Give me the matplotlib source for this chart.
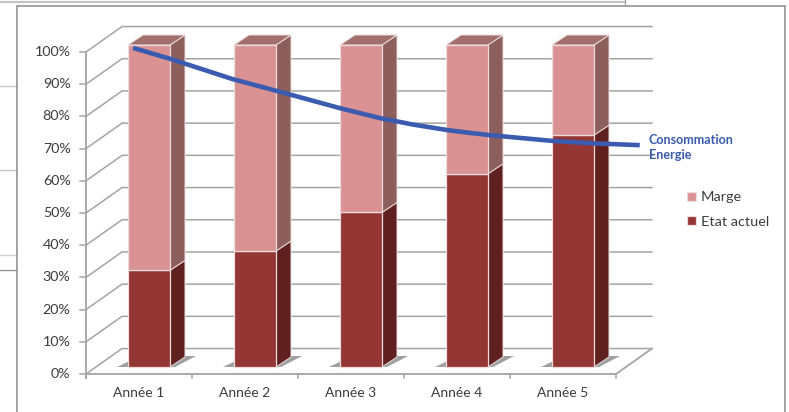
import matplotlib
matplotlib.use("Agg")
import matplotlib.pyplot as plt
from matplotlib.patches import Polygon, Rectangle

plt.rcParams['font.family'] = ['Lato', 'DejaVu Sans']

categories = ["Année 1", "Année 2", "Année 3", "Année 4", "Année 5"]
etat_actuel = [30, 36, 48, 60, 72]
marge = [70, 64, 52, 40, 28]
percent_ticks = [0, 10, 20, 30, 40, 50, 60, 70, 80, 90, 100]

# points (position along x, percent)
conso_x = [-0.15, 0.20, 0.79, 1.21, 1.80, 2.18, 2.49, 2.81, 3.03, 3.22, 3.81, 4.23, 4.63]
conso_y = [99.1, 95.7, 89.4, 85.7, 80.4, 77.3, 75.3, 73.6, 72.7, 72.0, 70.2, 69.4, 68.9]

W, H = 789, 412
PX_X = 1 / 106      # one pixel in x data units
PX_Y = 1 / 3.22     # one pixel in y data units

GREY = "#a4a4a4"
TEXT = "#3c3c3c"
EDGE = "#ecdcdc"
BLUE = "#3a5bb0"
MARGE_COLORS = ("#d99291", "#8c5e5c", "#a36f6d")
ETAT_COLORS = ("#943634", "#612020", "#7a2b2a")

fig = plt.figure(figsize=(W / 100, H / 100), dpi=100)
ax = fig.add_axes([0, 0, 1, 1])
ax.set_xlim(-149 * PX_X, (W - 149) * PX_X)
ax.set_ylim((367 - H) * PX_Y, 367 * PX_Y)
ax.axis("off")


def to_x(px):
    return (px - 149) * PX_X


def to_y(py):
    return (367 - py) * PX_Y


# bits of the window behind the chart
for py, color in [(86, "#c8c8c8"), (170, "#c8c8c8"), (255, "#d0d0d0"), (270, "#999999")]:
    ax.plot([to_x(0), to_x(16)], [to_y(py), to_y(py)], color=color, lw=1, zorder=0)
ax.plot([to_x(0), to_x(625)], [to_y(1.5), to_y(1.5)], color="#c4c4c4", lw=1.6, zorder=0)
ax.plot([to_x(625), to_x(625)], [to_y(0), to_y(5)], color="#999999", lw=0.8, zorder=0)

# chart frame, bottom edge is out of the picture
ax.add_patch(Rectangle((to_x(16.5), to_y(430)), to_x(785) - to_x(16.5), to_y(5.5) - to_y(430),
                       facecolor="white", edgecolor="#8a8a8a", lw=1.1, zorder=0.5))

# walls and floor
front_x0, front_x1 = to_x(86), to_x(616)
wall_dx, wall_dy = 36 * PX_X, 7.9
front_off = -2.17
for p in percent_ticks:
    y_front = p + front_off
    y_back = y_front + wall_dy
    ax.plot([front_x0, front_x0 + wall_dx, front_x1 + wall_dx], [y_front, y_back, y_back],
            color=GREY, lw=1.1, zorder=1, solid_joinstyle="miter")
    ax.plot([to_x(80), front_x0], [y_front, y_front], color=GREY, lw=1.1, zorder=1)
    ax.text(to_x(70.5), y_front, f"{p}%", ha="right", va="center", fontsize=10.3, color=TEXT)

ax.plot([front_x0, front_x0], [to_y(378), 100 + front_off], color=GREY, lw=1.3, zorder=1)
ax.plot([front_x0, front_x1, front_x1 + wall_dx], [front_off, front_off, front_off + wall_dy],
        color=GREY, lw=1.3, zorder=1)
for i in range(len(categories) + 1):
    tick_x = front_x0 + i
    ax.plot([tick_x, tick_x], [front_off, to_y(378)], color=GREY, lw=1.1, zorder=1)

positions = list(range(len(categories)))
half = 21 * PX_X
depth_x, depth_y = 15 * PX_X, 10 * PX_Y

# soft shadow on the floor
for pos in positions:
    ax.add_patch(Polygon([(pos - half - 11 * PX_X, 0), (pos + half + 5 * PX_X, 0),
                          (pos + half + 26 * PX_X, 11 * PX_Y), (pos - half + 12 * PX_X, 11 * PX_Y)],
                         facecolor="#8e8e8e", edgecolor="none", alpha=0.85, zorder=1.5))

bars_etat = ax.bar(positions, etat_actuel, width=2 * half, color=ETAT_COLORS[0], edgecolor=EDGE,
                   lw=0.9, zorder=4, label="Etat actuel")
bars_marge = ax.bar(positions, marge, width=2 * half, bottom=etat_actuel, color=MARGE_COLORS[0],
                    edgecolor=EDGE, lw=0.9, zorder=4, label="Marge")

for pos, etat, mar in zip(positions, etat_actuel, marge):
    right = pos + half
    total = etat + mar
    ax.add_patch(Polygon([(right, 0), (right + depth_x, depth_y), (right + depth_x, etat + depth_y), (right, etat)],
                         facecolor=ETAT_COLORS[1], edgecolor=EDGE, lw=0.7, zorder=3))
    ax.add_patch(Polygon([(right, etat), (right + depth_x, etat + depth_y),
                          (right + depth_x, total + depth_y), (right, total)],
                         facecolor=MARGE_COLORS[1], edgecolor=EDGE, lw=0.7, zorder=3))
    ax.add_patch(Polygon([(pos - half, total), (right, total), (right + depth_x, total + depth_y),
                          (pos - half + depth_x, total + depth_y)],
                         facecolor=MARGE_COLORS[2], edgecolor=EDGE, lw=0.7, zorder=3))

for i, name in enumerate(categories):
    ax.text(to_x(139) + i, to_y(393), name, ha="center", va="center", fontsize=10, color=TEXT)

ax.plot(conso_x, conso_y, color=BLUE, lw=3.3, zorder=6, solid_capstyle="butt", solid_joinstyle="round")
ax.text(to_x(648.5), to_y(139.5), "Consommation", ha="left", va="center", fontsize=9.1,
        fontweight="bold", color=BLUE)
ax.text(to_x(648.5), to_y(155), "Energie", ha="left", va="center", fontsize=9.1,
        fontweight="bold", color=BLUE)

ax.legend([bars_marge, bars_etat], ["Marge", "Etat actuel"], loc="upper left",
          bbox_to_anchor=(683 / W, 1 - 187 / H), frameon=False, fontsize=10.4, labelcolor=TEXT,
          handlelength=0.62, handleheight=0.62, handletextpad=0.3, labelspacing=0.86,
          borderpad=0.3, borderaxespad=0)

fig.savefig("out.png", dpi=100)
